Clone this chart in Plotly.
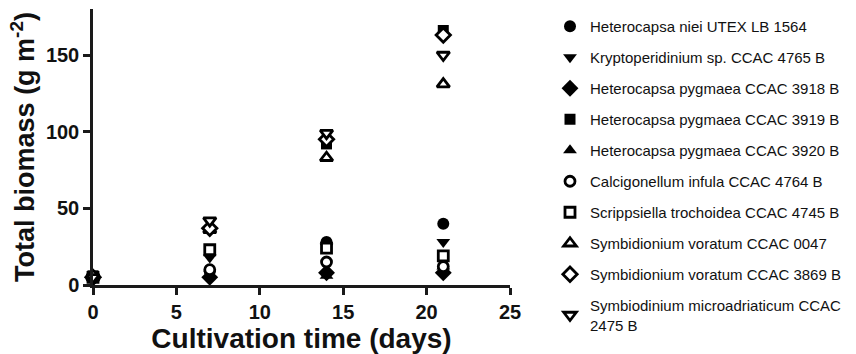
import plotly.graph_objects as go

days = [0, 7, 14, 21]

names = [
    "Heterocapsa niei UTEX LB 1564",
    "Kryptoperidinium sp. CCAC 4765 B",
    "Heterocapsa pygmaea CCAC 3918 B",
    "Heterocapsa pygmaea CCAC 3919 B",
    "Heterocapsa pygmaea CCAC 3920 B",
    "Calcigonellum infula CCAC 4764 B",
    "Scrippsiella trochoidea CCAC 4745 B",
    "Symbidionium voratum CCAC 0047",
    "Symbidionium voratum CCAC 3869 B",
    "Symbiodinium microadriaticum CCAC<br>2475 B",
]

niei = [5, 9, 28, 40]
krypto = [5, 18, 25, 28]
hp3918 = [5, 5, 8, 8]
hp3919 = [6, 23, 92, 166]
hp3920 = [5, 7, 6, 12]
calci = [5, 10, 15, 12]
scripp = [5, 23, 24, 19]
sv0047 = [5, 36, 83, 131]
sv3869 = [5, 37, 95, 163]
smicro = [5, 42, 99, 150]

series = [niei, krypto, hp3918, hp3919, hp3920, calci, scripp, sv0047, sv3869, smicro]
symbols = ["circle", "triangle-down", "diamond", "square", "triangle-up",
           "circle", "square", "triangle-up", "diamond", "triangle-down"]
filled = [True, True, True, True, True, False, False, False, False, False]
sizes = [12, 12, 13, 11, 12, 10, 10, 11, 11, 11]

x_ticks = [0, 5, 10, 15, 20, 25]
y_ticks = [0, 50, 100, 150]

fig = go.Figure()
for i, (nm, vals, sym, fl, sz) in enumerate(zip(names, series, symbols, filled, sizes)):
    fig.add_trace(go.Scatter(
        x=days, y=vals, mode="markers", name=nm,
        legendgroup=f"g{i}",
        cliponaxis=False,
        marker=dict(
            symbol=sym, size=sz,
            color="black" if fl else "white",
            line=dict(color="black", width=0 if fl else 2.8),
        ),
    ))

font_family = "Liberation Sans, Arial, sans-serif"
axis_color = "#1a1a1a"

fig.update_layout(
    width=856, height=354,
    margin=dict(l=93, r=346, t=9, b=69),
    paper_bgcolor="white", plot_bgcolor="white",
    font=dict(family=font_family, color="#111"),
    showlegend=True,
    legend=dict(
        xref="container", yref="container",
        x=550 / 856, y=1 - 10 / 354, xanchor="left", yanchor="top",
        font=dict(size=15, family=font_family, color="#111"),
        tracegroupgap=8.5,
        maxheight=1,
        bgcolor="rgba(0,0,0,0)",
    ),
    xaxis=dict(
        range=[0, 25], tickvals=x_ticks, ticktext=[str(v) for v in x_ticks],
        showline=True, linecolor=axis_color, linewidth=2.5,
        ticks="outside", ticklen=7, tickwidth=2.5, tickcolor=axis_color,
        showgrid=False, zeroline=False,
        tickfont=dict(size=20, family=font_family, weight="bold", color="#111"),
        title=dict(text="<b>Cultivation time (days)</b>",
                   font=dict(size=28, family=font_family, color="#111"), standoff=1),
    ),
    yaxis=dict(
        range=[0, 180], tickvals=y_ticks, ticktext=[str(v) for v in y_ticks],
        showline=True, linecolor=axis_color, linewidth=2.5,
        ticks="outside", ticklen=7, tickwidth=2.5, tickcolor=axis_color,
        showgrid=False, zeroline=False,
        tickfont=dict(size=20, family=font_family, weight="bold", color="#111"),
        title=dict(text="<b>Total biomass (g m<sup>-2</sup>)</b>",
                   font=dict(size=27, family=font_family, color="#111"), standoff=4),
    ),
)

fig.write_html("out.html")
